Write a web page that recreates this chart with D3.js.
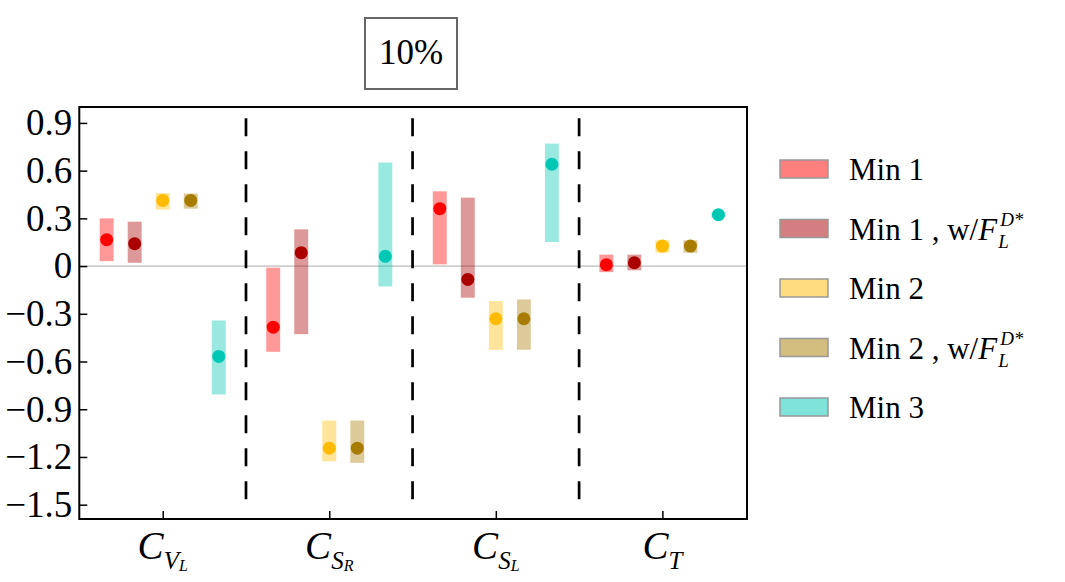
<!DOCTYPE html>
<html>
<head>
<meta charset="utf-8">
<script src="https://cdn.jsdelivr.net/npm/d3@7"></script>
<style>
    body { margin: 0; background: #fff; }
</style>
</head>
<body>
<svg id="chart" width="1065" height="582"></svg>
<script>
// ---- data ----
const categories = ["CVL", "CSR", "CSL", "CT"];
const categoryLabels = [
    ["C", "V", "L"],
    ["C", "S", "R"],
    ["C", "S", "L"],
    ["C", "T", ""]
];
const seriesNames = ["Min 1", "Min 1 , w/", "Min 2", "Min 2 , w/", "Min 3"];
const seriesColors = ["#ff0000", "#aa0000", "#ffbb00", "#a87c00", "#00c8b4"];

const min1 = [0.166, -0.384, 0.361, 0.009];
const min1Lo = [0.031, -0.539, 0.011, -0.038];
const min1Hi = [0.300, -0.010, 0.470, 0.072];

const min1w = [0.141, 0.084, -0.084, 0.021];
const min1wLo = [0.021, -0.428, -0.199, -0.027];
const min1wHi = [0.279, 0.231, 0.430, 0.072];

const min2 = [0.413, -1.145, -0.331, 0.126];
const min2Lo = [0.355, -1.227, -0.526, 0.084];
const min2Hi = [0.459, -0.971, -0.220, 0.162];

const min2w = [0.413, -1.145, -0.331, 0.126];
const min2wLo = [0.361, -1.237, -0.526, 0.084];
const min2wHi = [0.456, -0.971, -0.210, 0.162];

const min3 = [-0.568, 0.061, 0.640, 0.323];
const min3Lo = [-0.807, -0.128, 0.151, 0.305];
const min3Hi = [-0.342, 0.651, 0.770, 0.340];

const yTicks = [0.9, 0.6, 0.3, 0, -0.3, -0.6, -0.9, -1.2, -1.5];
const titleText = "10%";

const seriesValues = [min1, min1w, min2, min2w, min3];
const seriesLo = [min1Lo, min1wLo, min2Lo, min2wLo, min3Lo];
const seriesHi = [min1Hi, min1wHi, min2Hi, min2wHi, min3Hi];

// pick the first serif face that is really installed
function pickFont(list) {
    let ctx = document.createElement("canvas").getContext("2d"),
        sample = "Min 1 0.9 CVLw/F%";
    ctx.font = "40px monospace";
    let base = ctx.measureText(sample).width;
    for (let f of list) {
        ctx.font = "40px \"" + f + "\", monospace";
        if (ctx.measureText(sample).width !== base) return f;
    }
    return "serif";
}
const FONT = pickFont(["Liberation Serif", "DejaVu Serif", "Noto Serif", "Tinos", "Times New Roman", "FreeSerif"]);

// ---- layout ----
const plot = { left: 79.3, right: 747, top: 107, bottom: 519 };
const GROUP_STEP = 1.242, GROUP_OFFSET = 0.095, POINT_STEP = 0.209, BAR_WIDTH = 0.104;

const svg = d3.select("#chart").style("font-family", "\"" + FONT + "\", serif");

const x = d3.scaleLinear().domain([-0.527, 4.452]).range([plot.left, plot.right]);
const y = d3.scaleLinear().domain([-1.59, 1.0]).range([plot.bottom, plot.top]);

const groupCenter = (i) => i * GROUP_STEP + GROUP_OFFSET;
const pointX = (i, j) => groupCenter(i) + (j - 2) * POINT_STEP;

// zero line
svg.append("line")
    .attr("x1", plot.left).attr("x2", plot.right)
    .attr("y1", y(0)).attr("y2", y(0))
    .attr("stroke", "#aaaaaa").attr("stroke-width", 1);

// bands and central values
let rows = [];
seriesValues.forEach((vals, j) => {
    vals.forEach((v, i) => {
        rows.push({ i: i, j: j, v: v, lo: seriesLo[j][i], hi: seriesHi[j][i] });
    });
});

svg.append("g").attr("class", "bands")
    .selectAll("rect")
    .data(rows)
    .enter().append("rect")
        .attr("x", (d) => x(pointX(d.i, d.j) - BAR_WIDTH / 2))
        .attr("width", (d) => x(BAR_WIDTH) - x(0))
        .attr("y", (d) => y(d.hi))
        .attr("height", (d) => y(d.lo) - y(d.hi))
        .attr("fill", (d) => seriesColors[d.j])
        .attr("fill-opacity", 0.4);

svg.append("g").attr("class", "points")
    .selectAll("circle")
    .data(rows)
    .enter().append("circle")
        .attr("cx", (d) => x(pointX(d.i, d.j)))
        .attr("cy", (d) => y(d.v))
        .attr("r", 6.5)
        .attr("fill", (d) => seriesColors[d.j]);

// dashed separators
d3.range(categories.length - 1).forEach((i) => {
    let xm = x((groupCenter(i) + groupCenter(i + 1)) / 2);
    svg.append("line")
        .attr("x1", xm).attr("x2", xm)
        .attr("y1", y(0.93)).attr("y2", y(-1.52))
        .attr("stroke", "#000").attr("stroke-width", 2.7)
        .attr("stroke-dasharray", "18,15");
});

// axes
let yAxis = d3.axisLeft(y)
    .tickValues(yTicks)
    .tickSizeInner(-8).tickSizeOuter(0).tickPadding(7)
    .tickFormat((d) => d === 0 ? "0" : (d < 0 ? "\u2212" : "") + Math.abs(d).toFixed(1));

let yg = svg.append("g").attr("transform", "translate(" + plot.left + ",0)").call(yAxis);
yg.attr("font-family", null).attr("font-size", null);
yg.select(".domain").remove();
yg.selectAll(".tick line").attr("stroke", "#000").attr("stroke-width", 1.5);
yg.selectAll(".tick text").attr("font-size", 37).attr("fill", "#000");

let xAxis = d3.axisBottom(x)
    .tickValues(d3.range(categories.length).map(groupCenter))
    .tickSizeInner(-8).tickSizeOuter(0).tickFormat("");

let xg = svg.append("g").attr("transform", "translate(0," + plot.bottom + ")").call(xAxis);
xg.select(".domain").remove();
xg.selectAll(".tick line").attr("stroke", "#000").attr("stroke-width", 1.5);

categoryLabels.forEach((parts, i) => {
    let t = svg.append("text")
        .attr("x", x(groupCenter(i))).attr("y", 559)
        .attr("text-anchor", "middle")
        .attr("font-style", "italic");
    t.append("tspan").attr("font-size", 39).text(parts[0]);
    t.append("tspan").attr("font-size", 25).attr("dy", 10).text(parts[1]);
    if (parts[2]) t.append("tspan").attr("font-size", 16).attr("dy", 2).text(parts[2]);
});

// frame
svg.append("rect")
    .attr("x", plot.left).attr("y", plot.top)
    .attr("width", plot.right - plot.left).attr("height", plot.bottom - plot.top)
    .attr("fill", "none").attr("stroke", "#000").attr("stroke-width", 2);

// title box
svg.append("rect")
    .attr("x", 365).attr("y", 18).attr("width", 92).attr("height", 71)
    .attr("fill", "#fff").attr("stroke", "#666").attr("stroke-width", 2);
svg.append("text")
    .attr("x", 411).attr("y", 64).attr("text-anchor", "middle")
    .attr("font-size", 35).text(titleText);

// legend
let legend = svg.append("g").attr("class", "legend");
seriesNames.forEach((name, j) => {
    let cy = 169 + j * 59.5;
    legend.append("rect")
        .attr("x", 780).attr("y", cy - 9).attr("width", 48).attr("height", 18)
        .attr("fill", seriesColors[j]).attr("fill-opacity", 0.5)
        .attr("stroke", "#999").attr("stroke-width", 1.5);

    let t = legend.append("text")
        .attr("x", 849).attr("y", cy + 11)
        .attr("font-size", 31);
    t.append("tspan").text(name);
    if (name.indexOf("w/") >= 0) {
        t.append("tspan").attr("font-style", "italic").text("F");
        let end = 849 + t.node().getComputedTextLength() + 1;
        legend.append("text")
            .attr("x", end).attr("y", cy + 19)
            .attr("font-size", 19).attr("font-style", "italic").text("L");
        legend.append("text")
            .attr("x", end + 2).attr("y", cy - 3)
            .attr("font-size", 19).attr("font-style", "italic").text("D*");
    }
});
</script>
</body>
</html>
